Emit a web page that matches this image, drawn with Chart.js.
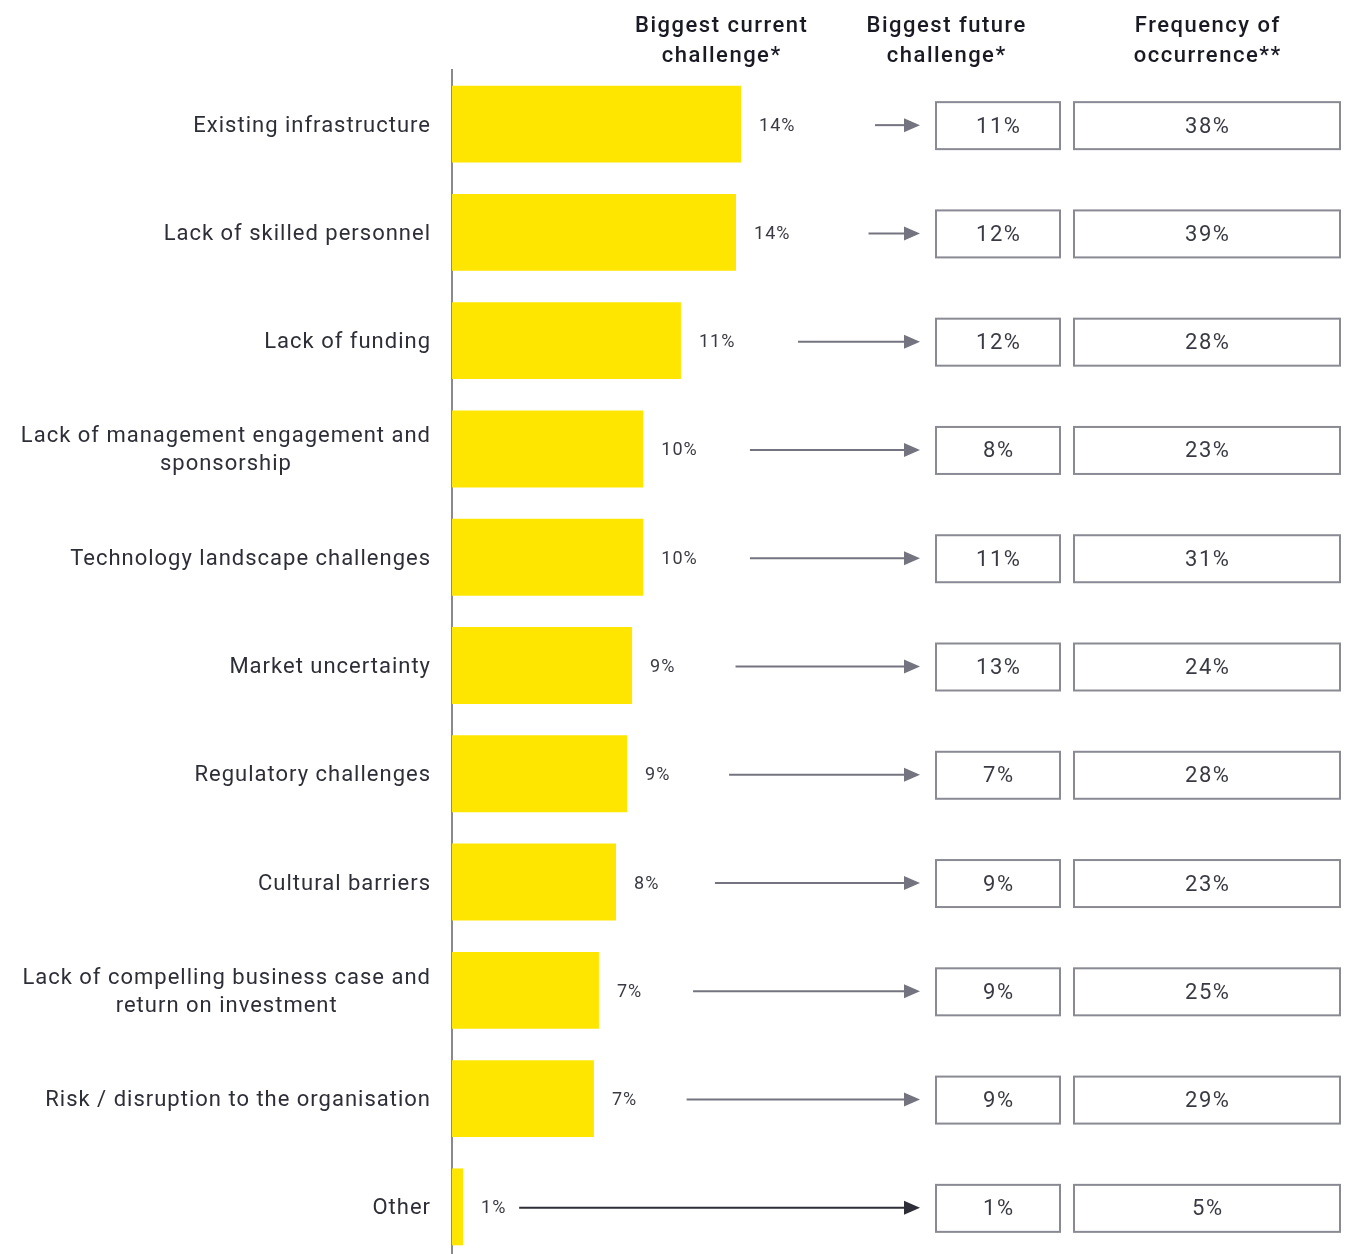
<!DOCTYPE html>
<html>
<head>
<meta charset="utf-8">
<script src="https://cdn.jsdelivr.net/npm/chart.js@4/dist/chart.umd.min.js"></script>
<style>
  html, body { margin: 0; padding: 0; background: #fff; overflow: hidden; }
  #wrap { position: relative; width: 1349px; height: 1262px; }
</style>
</head>
<body>
<div id="wrap"><canvas id="myChart"></canvas></div>
<script>
// challenge categories (top to bottom)
const categories = [
  ['Existing infrastructure'],
  ['Lack of skilled personnel'],
  ['Lack of funding'],
  ['Lack of management engagement and', 'sponsorship'],
  ['Technology landscape challenges'],
  ['Market uncertainty'],
  ['Regulatory challenges'],
  ['Cultural barriers'],
  ['Lack of compelling business case and', 'return on investment'],
  ['Risk / disruption to the organisation'],
  ['Other']
];

// biggest current challenge (%), shown as bars
const currentChallenge = [14.38, 14.13, 11.39, 9.52, 9.52, 8.96, 8.71, 8.16, 7.31, 7.06, 0.55];
// biggest future challenge (%)
const futureChallenge = [11, 12, 12, 8, 11, 13, 7, 9, 9, 9, 1];
// frequency of occurrence (%)
const frequency = [38, 39, 28, 23, 31, 24, 28, 23, 25, 29, 5];

const columnHeaders = [
  ['Biggest current', 'challenge*'],
  ['Biggest future', 'challenge*'],
  ['Frequency of', 'occurrence**']
];

const FONT = 'Roboto, "Noto Sans", sans-serif';
const TEXT = '#2e2e38';
const GREY = '#747480';

const pct = v => Math.round(v) + '%';

// centred text that ignores the trailing letter spacing
function centred(ctx, s, cx, cy, sp) {
  const w = ctx.measureText(s).width - sp;
  ctx.textAlign = 'left';
  ctx.fillText(s, cx - w / 2, cy);
}

// draws category names, value labels, arrows, the two boxed columns and headers
const sidePlugin = {
  id: 'sidePlugin',
  afterDatasetsDraw(chart) {
    const { ctx } = chart;
    const x = chart.scales.x;
    const y = chart.scales.y;
    const meta = chart.getDatasetMeta(0);
    ctx.save();
    ctx.textBaseline = 'middle';

    // category names: block right-aligned to the axis, lines centred
    ctx.font = '22px ' + FONT;
    ctx.letterSpacing = '1px';
    ctx.fillStyle = TEXT;
    categories.forEach((lines, i) => {
      const cy = y.getPixelForValue(i) + 2;
      const w = Math.max(...lines.map(l => ctx.measureText(l).width - 1));
      const cx = 430 - w / 2;
      const lh = 28;
      lines.forEach((l, j) => {
        centred(ctx, l, cx, cy + (j - (lines.length - 1) / 2) * lh, 1);
      });
    });

    // value labels after each bar
    ctx.font = '18px ' + FONT;
    ctx.letterSpacing = '1px';
    ctx.textAlign = 'left';
    ctx.fillStyle = '#3a3a44';
    meta.data.forEach((bar, i) => {
      ctx.fillText(pct(currentChallenge[i]), bar.x + 18, bar.y + 2);
    });

    // arrows pointing to the future column
    const tip = 920;
    currentChallenge.forEach((v, i) => {
      const cy = y.getPixelForValue(i) + 1;
      const start = x.getPixelForValue(v * 1.28) + 53;
      const col = i === currentChallenge.length - 1 ? '#2e2e38' : GREY;
      ctx.strokeStyle = col;
      ctx.fillStyle = col;
      ctx.lineWidth = 2;
      ctx.beginPath();
      ctx.moveTo(start, cy);
      ctx.lineTo(tip - 14, cy);
      ctx.stroke();
      ctx.beginPath();
      ctx.moveTo(tip, cy);
      ctx.lineTo(tip - 16, cy - 7);
      ctx.lineTo(tip - 16, cy + 7);
      ctx.closePath();
      ctx.fill();
    });

    // boxed columns
    const boxes = [
      { left: 936, right: 1060, vals: futureChallenge },
      { left: 1074, right: 1340, vals: frequency }
    ];
    ctx.font = '22px ' + FONT;
    ctx.letterSpacing = '1.5px';
    boxes.forEach(b => {
      b.vals.forEach((v, i) => {
        const cy = y.getPixelForValue(i) + 2;
        ctx.strokeStyle = '#8a8a94';
        ctx.lineWidth = 2;
        ctx.strokeRect(b.left, cy - 24, b.right - b.left, 47);
        ctx.fillStyle = '#3a3a44';
        centred(ctx, v + '%', (b.left + b.right) / 2, cy + 1, 1.5);
      });
    });

    // column headers
    const headerX = [721, 946, 1207];
    ctx.font = '500 22px ' + FONT;
    ctx.letterSpacing = '1.5px';
    ctx.fillStyle = '#1a1a24';
    columnHeaders.forEach((lines, k) => {
      lines.forEach((l, j) => centred(ctx, l, headerX[k], 26 + j * 30, 1.5));
    });

    ctx.restore();
  }
};

const ctx = document.getElementById('myChart').getContext('2d');
new Chart(ctx, {
  type: 'bar',
  data: {
    labels: categories,
    datasets: [{
      data: currentChallenge,
      backgroundColor: '#ffe600',
      borderWidth: 0,
      barPercentage: 0.71,
      categoryPercentage: 1
    }]
  },
  options: {
    indexAxis: 'y',
    responsive: true,
    maintainAspectRatio: false,
    animation: false,
    layout: { padding: { top: 70, bottom: 1, right: 93, left: 0 } },
    plugins: {
      legend: { display: false },
      tooltip: { enabled: false }
    },
    scales: {
      x: {
        display: false,
        min: 0,
        max: 40
      },
      y: {
        grid: { display: false, drawTicks: false },
        border: { display: true, color: '#8a8a8a', width: 2 },
        ticks: { display: false },
        afterFit(scale) { scale.width = 452; }
      }
    }
  },
  plugins: [sidePlugin]
});
</script>
</body>
</html>
